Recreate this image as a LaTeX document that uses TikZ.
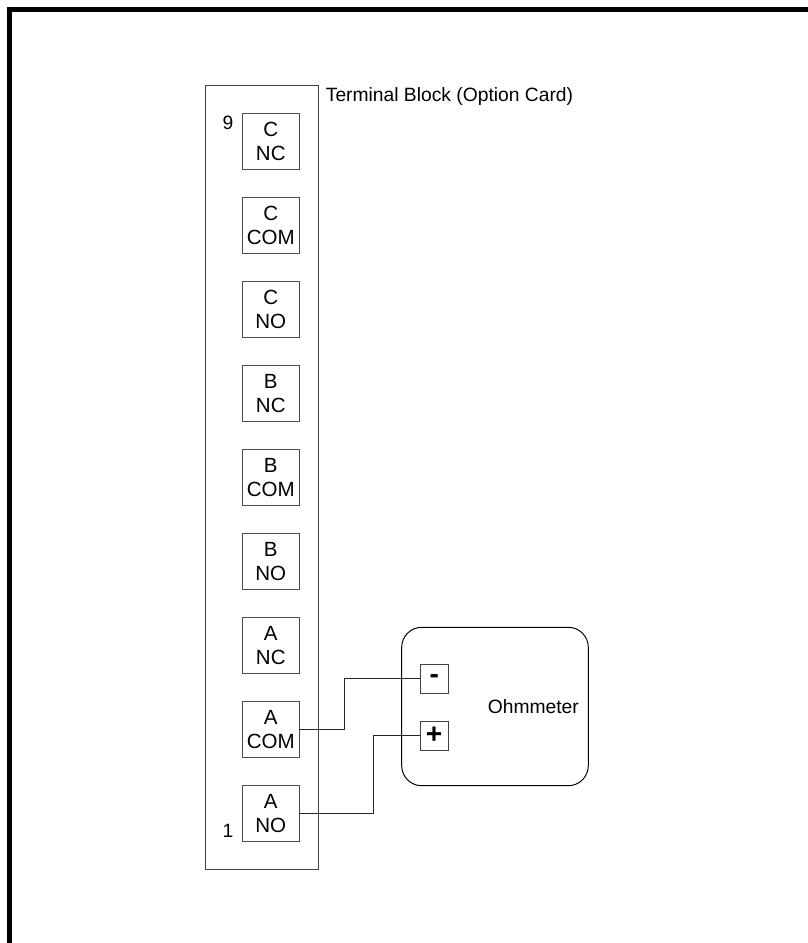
\documentclass[tikz,border=0pt]{standalone}
\usepackage{fontspec}
\setmainfont{Liberation Sans}
\usepackage{tikz}
\usetikzlibrary{calc}
\usetikzlibrary{positioning}
\tikzset{
thinline/.style={line width=0.7pt},
tbox/.style={draw=black!70, thinline, minimum width=1.425cm, minimum height=1.41cm, inner sep=0pt, outer sep=0pt, align=center, font=\fontsize{14.6}{16.6}\selectfont},
pin/.style={draw=black!75, thinline, minimum width=0.71cm, minimum height=0.725cm, inner sep=0pt, outer sep=0pt, font=\fontsize{20}{20}\selectfont\bfseries},
pinnum/.style={inner sep=0pt, font=\fontsize{13.7}{16}\selectfont},
caption/.style={inner sep=0pt, font=\fontsize{13.7}{16}\selectfont},
wire/.style={draw=black!85, thinline},
}
\begin{document}
\begin{tikzpicture}[node distance=2.1cm]
	\useasboundingbox (0,0) rectangle (20.2,-23.575);
	%
	\draw[line width=3.1pt] (0.2375,-23.8) -- (0.2375,-0.2375) -- (20.4,-0.2375);
	
	%
	\node[draw=black!75, thinline, minimum width=2.82cm, minimum height=19.617cm, inner sep=0pt, outer sep=0pt] (block) at (6.54,-11.94) {};
	\node[caption, anchor=base west] (blocklabel) at ($(block.north east)+(0.19,-0.41)$) {Terminal Block (Option Card)};
	
	\node[tbox] (cnc) at (6.77,-3.5375) {C\\NC};
	\node[tbox, below of=cnc] (ccom) {C\\COM};
	\node[tbox, below of=ccom] (cno) {C\\NO};
	\node[tbox, below of=cno] (bnc) {B\\NC};
	\node[tbox, below of=bnc] (bcom) {B\\COM};
	\node[tbox, below of=bcom] (bno) {B\\NO};
	\node[tbox, below of=bno] (anc) {A\\NC};
	\node[tbox, below of=anc] (acom) {A\\COM};
	\node[tbox, below of=acom] (ano) {A\\NO};
	
	\node[pinnum, anchor=north east] (nine) at ($(cnc.north west)+(-0.22,-0.05)$) {9};
	\node[pinnum, anchor=south east] (one) at ($(ano.south west)+(-0.22,0.09)$) {1};
	
	%
	\node[draw, thinline, rounded corners=0.5cm, minimum width=4.665cm, minimum height=3.96cm, outer sep=0pt] (meter) at (12.375,-17.6625) {};
	\node[caption, anchor=base west] (meterlabel) at (12.19,-17.83) {Ohmmeter};
	\node[pin] (minus) at (10.855,-16.97) {-};
	\node[pin] (plus) at (10.855,-18.3875) {+};
	
	%
	\draw[wire] (acom.east) -- ++(1.14,0) |- (minus.west);
	\draw[wire] (ano.east) -- ++(1.85,0) |- (plus.west);
\end{tikzpicture}
\end{document}
